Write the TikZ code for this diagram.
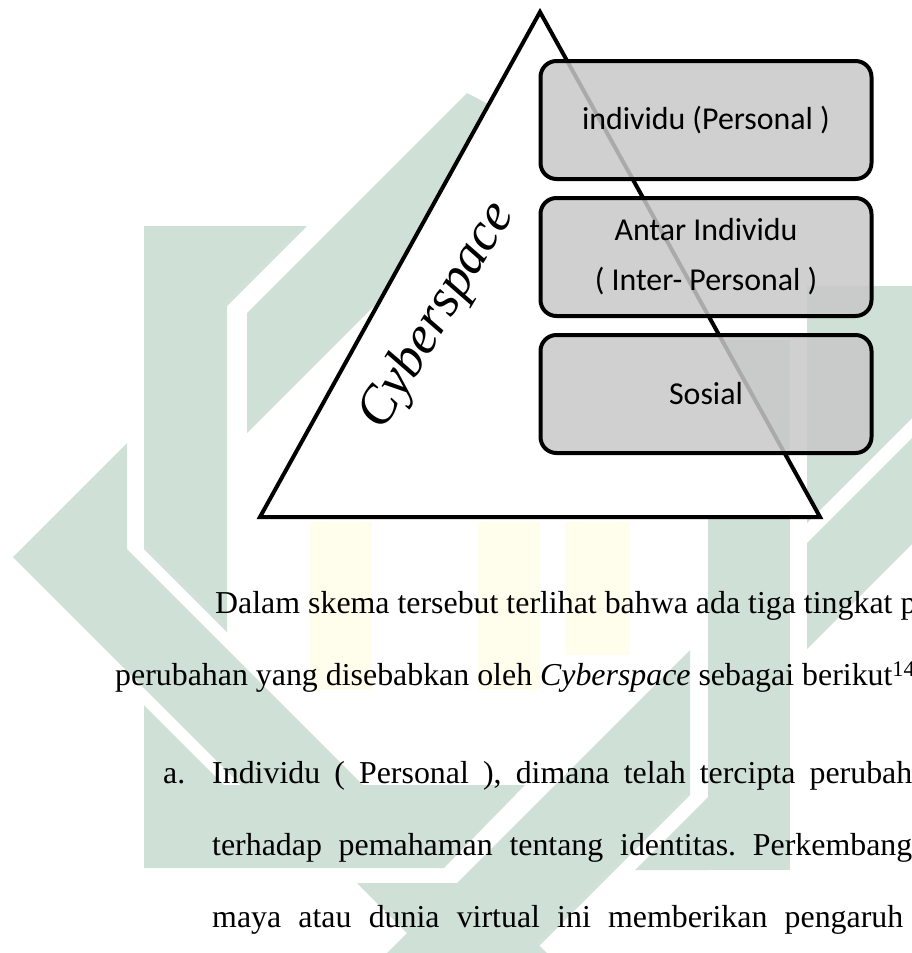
\documentclass[tikz,border=0pt]{standalone}
\usepackage{fontspec}
\setmainfont{Liberation Serif}
\newfontfamily\boxfont{Carlito}
\usetikzlibrary{positioning}

\definecolor{wmgreen}{RGB}{207,224,214}
\definecolor{wmyellow}{RGB}{255,253,236}
\definecolor{boxgray}{RGB}{200,200,200}

\begin{document}
\frenchspacing
\begin{tikzpicture}[
    x=1bp, y=-1bp,
    node distance=15bp,
    level/.style={draw, line width=4bp, rounded corners=16bp, fill=boxgray, fill opacity=0.85, text opacity=1,
                  minimum width=331bp, minimum height=118bp, inner sep=0pt, align=center,
                  font=\boxfont\fontsize{32}{50}\selectfont},
    body/.style={anchor=base west, inner sep=0pt, font=\fontsize{32}{38}\selectfont},
    wm/.style={fill=wmgreen},
    wmy/.style={fill=wmyellow}
]
\useasboundingbox (0,0) rectangle (912,953);
\clip (0,0) rectangle (912,953);

% watermark
\fill[wm] (13,557) -- (127,443) -- (127,549) -- (363,785) -- (525,785) -- (444,868) -- (144,868)
    -- (144,705) -- (224,785) -- (241,785) -- cycle;
\fill[wm] (144,226) -- (307,226) -- (227,306) -- (227,632) -- (144,549) -- cycle;
\fill[wm] (247,313) -- (467,93) -- (488,104) -- (470,210) -- (376,304) -- (247,433) -- cycle;
\fill[wm] (708,340) -- (790,340) -- (790,870) -- (708,870) -- cycle;
\fill[wm] (708,797) -- (708,870) -- (635,870) -- cycle;
\fill[wm] (690,650) -- (690,795) -- (485,1000) -- (340,1000) -- cycle;
\fill[wm] (357,883) -- (477,883) -- (594,1000) -- (474,1000) -- cycle;
\fill[wm] (807,543) -- (930,420) -- (930,526) -- (807,649) -- cycle;
\fill[wm] (807,286) -- (930,286) -- (930,400) -- (807,523) -- cycle;
\fill[wmy] (310,522) rectangle (372,690);
\fill[wmy] (478,522) rectangle (540,690);
\fill[wmy] (565,522) rectangle (630,655);

\draw[line width=4bp, fill=white] (540,12) -- (820,517) -- (260,517) -- cycle;
\node[rotate=59, inner sep=0pt] (cyber) at (438,316) {\fontsize{54}{60}\selectfont\itshape Cyberspace};

\node[level] (personal) at (706,120) {individu (Personal )};
\node[level, below=of personal] (inter) {Antar Individu\\( Inter- Personal )};
\node[level, below=of inter] (sosial) {Sosial};

\node[body] (paraA) at (215,613) {Dalam skema tersebut terlihat bahwa ada tiga tingkat p};
\node[body] (paraB) at (115,685) {perubahan yang disebabkan oleh \textit{Cyberspace} sebagai berikut\textsuperscript{14}};
\node[body] (itemA) at (163,783) {a.};
\node[body] (lineA) at (212,783) {\makebox[700bp][s]{Individu ( Personal ), dimana telah tercipta perubah}};
\node[body] (lineB) at (212,855) {\makebox[700bp][s]{terhadap pemahaman tentang identitas. Perkembang}};
\node[body] (lineC) at (212,927) {\makebox[691bp][s]{maya atau dunia virtual ini memberikan pengaruh}};
\end{tikzpicture}
\end{document}
